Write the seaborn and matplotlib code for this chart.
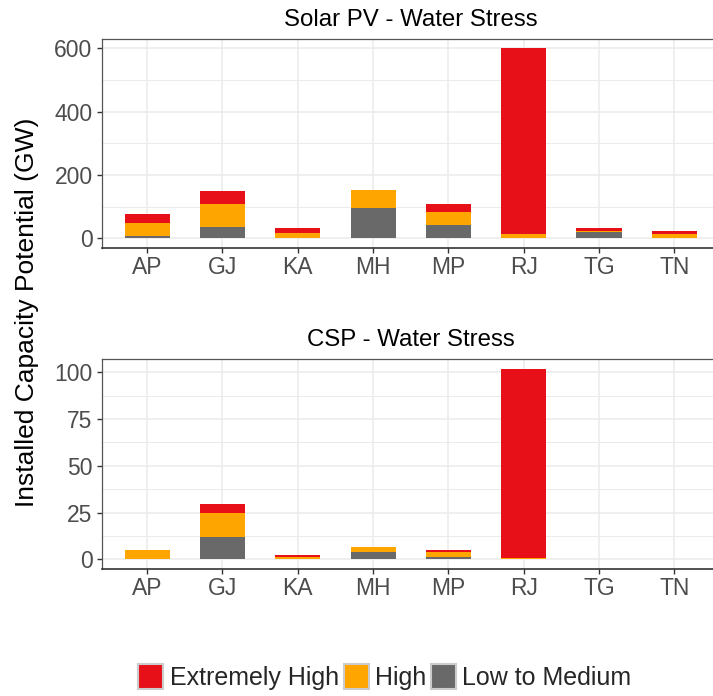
import numpy as np
import pandas as pd
import matplotlib
matplotlib.use("Agg")
import matplotlib.pyplot as plt
import seaborn as sns
from matplotlib.patches import Patch
from matplotlib.ticker import MultipleLocator

# ---- data (GW) ----
states = ["AP", "GJ", "KA", "MH", "MP", "RJ", "TG", "TN"]

pv_low = [8.5, 35, 3, 96, 44, 2, 19, 0]
pv_high = [40, 75, 15, 57, 40, 13, 6, 15]
pv_ext = [28.5, 41, 16, 0, 26, 585, 7, 10]

csp_low = [0, 11.9, 0.2, 4.0, 1.2, 0.1, 0, 0]
csp_high = [5.1, 12.7, 0.9, 2.4, 2.8, 0.5, 0, 0.5]
csp_ext = [0.2, 5.0, 1.2, 0, 0.8, 101.4, 0.5, 0]

pv_ticks = [0, 200, 400, 600]
csp_ticks = [0, 25, 50, 75, 100]

legend_labels = ["Extremely High", "High", "Low to Medium"]
panel_titles = ["Solar PV - Water Stress", "CSP - Water Stress"]
ylabel = "Installed Capacity Potential (GW)"

RED = "#E81018"
ORANGE = "#FFA500"
GRAY = "#696969"

sns.set_theme(style="whitegrid")
plt.rcParams["font.family"] = ["Liberation Sans", "DejaVu Sans"]

W, H = 713, 696
fig = plt.figure(figsize=(W / 100, H / 100), dpi=100)
fig.patch.set_facecolor("white")

left_px, right_px = 102, 719.5


def add_ax(top_px, bottom_px):
    return fig.add_axes([left_px / W, 1 - bottom_px / H,
                         (right_px - left_px) / W, (bottom_px - top_px) / H])


ax1 = add_ax(38.7, 248)
ax2 = add_ax(359, 569)


def draw(ax, low, high, ext, ticks, minor_step, ylim):
    df = pd.DataFrame({"state": states, "low": low, "high": high, "ext": ext})
    df["c_high"] = df["low"] + df["high"]
    df["c_ext"] = df["c_high"] + df["ext"]
    for col, color in [("c_ext", RED), ("c_high", ORANGE), ("low", GRAY)]:
        sns.barplot(data=df, x="state", y=col, order=states, color=color,
                    saturation=1, width=0.6, errorbar=None, ax=ax,
                    edgecolor="none", linewidth=0)
    ax.set_xlim(-0.6, 7.6)
    ax.set_ylim(*ylim)
    ax.set_yticks(ticks)
    ax.yaxis.set_minor_locator(MultipleLocator(minor_step))
    ax.set_xlabel("")
    ax.set_ylabel("")
    ax.set_axisbelow(True)
    ax.grid(False)
    ax.grid(which="major", axis="both", color="#EBEBEB", linewidth=1.1)
    ax.grid(which="minor", axis="y", color="#EBEBEB", linewidth=0.7)
    ax.tick_params(axis="both", which="major", bottom=True, left=True,
                   length=3.6, width=1.0, color="#333333",
                   labelcolor="#4D4D4D", labelsize=16.5)
    ax.tick_params(axis="y", which="major", pad=3.2)
    ax.tick_params(axis="x", which="major", pad=2.2)
    ax.tick_params(which="minor", length=0)
    for s in ax.spines.values():
        s.set_visible(True)
        s.set_color("#555555")
        s.set_linewidth(0.9)
    ax.spines["bottom"].set_color("#333333")
    ax.spines["bottom"].set_linewidth(1.2)
    ax.set_facecolor("white")


draw(ax1, pv_low, pv_high, pv_ext, pv_ticks, 100, (-30, 630))
draw(ax2, csp_low, csp_high, csp_ext, csp_ticks, 12.5, (-5.1, 107.1))

cx = (left_px + right_px) / 2 / W
fig.text(cx, 1 - 20 / H, panel_titles[0], ha="center", va="center",
         fontsize=17.3, color="black")
fig.text(cx, 1 - 340 / H, panel_titles[1], ha="center", va="center",
         fontsize=17.3, color="black")

fig.text(27 / W, 1 - 312 / H, ylabel, rotation=90, ha="center",
         va="center", fontsize=19, color="black")

handles = [Patch(facecolor=c, edgecolor="#CCCCCC", linewidth=1.5)
           for c in (RED, ORANGE, GRAY)]
fig.legend(handles, legend_labels, loc="center", ncol=3,
           bbox_to_anchor=(385 / W, 19 / H), frameon=False, fontsize=18,
           handlelength=1.0, handleheight=1.15, handletextpad=0.25,
           columnspacing=0.2, borderaxespad=0, borderpad=0)

fig.savefig("out.png", dpi=100, facecolor="white")
